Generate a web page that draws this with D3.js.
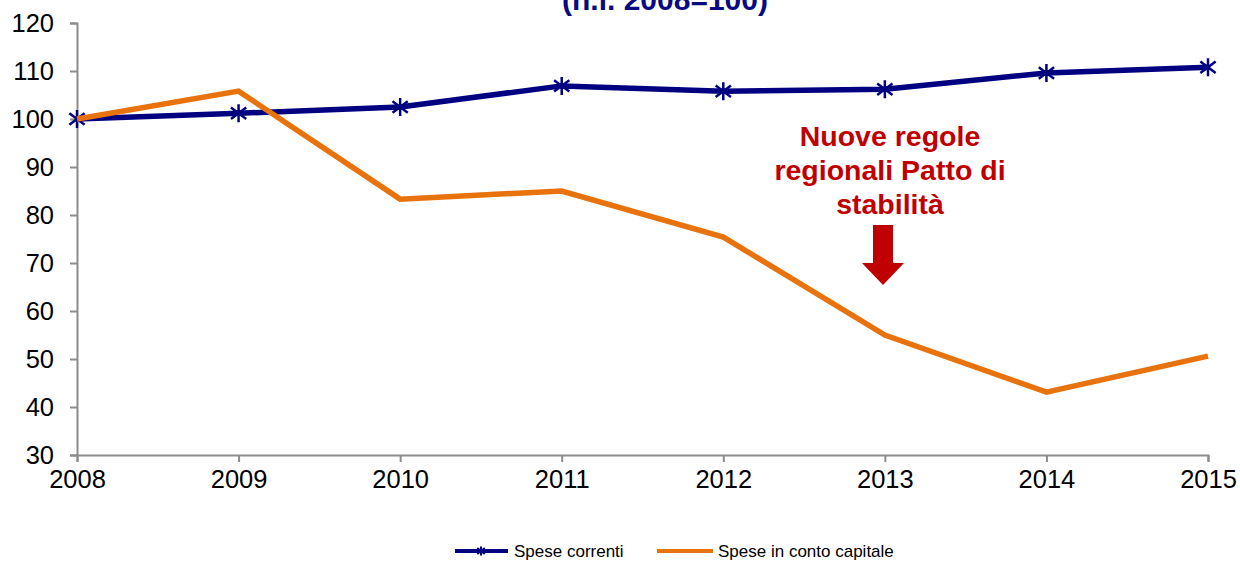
<!DOCTYPE html>
<html><head><meta charset="utf-8">
<script src="https://cdn.jsdelivr.net/npm/d3@7"></script>
<style>body{margin:0;background:#fff}svg{display:block}text{font-family:"Liberation Sans",Arial,sans-serif}</style>
</head><body><svg id="c" width="1240" height="562"></svg>
<script>
const years = [2008, 2009, 2010, 2011, 2012, 2013, 2014, 2015];
const speseCorrenti = [100, 101.2, 102.5, 106.9, 105.8, 106.2, 109.6, 110.8];
const speseCapitale = [100, 105.8, 83.3, 85.0, 75.4, 55.0, 43.1, 50.6];
const yTicks = [30, 40, 50, 60, 70, 80, 90, 100, 110, 120];
const seriesNames = ["Spese correnti", "Spese in conto capitale"];
const titleText = "(n.i. 2008=100)";
const noteLines = ["Nuove regole", "regionali Patto di", "stabilità"];

const svg = d3.select("#c");
const x = d3.scaleLinear().domain([2008, 2015]).range([77, 1208]);
const y = d3.scaleLinear().domain([30, 120]).range([455, 23]);
const axisCol = "#8c8c8c";

// title (partially cut at top, as in the source)
svg.append("text").attr("x", 665).attr("y", 10).attr("text-anchor", "middle")
  .attr("font-size", 30).attr("font-weight", "bold").attr("fill", "#0a0a80").text(titleText);

// y axis
const ya = svg.append("g").attr("transform", "translate(77,0)")
  .call(d3.axisLeft(y).tickValues(yTicks).tickSize(7).tickPadding(16).tickFormat(d3.format("d")));
ya.select(".domain").attr("stroke", axisCol).attr("stroke-width", 2);
ya.selectAll(".tick line").attr("stroke", axisCol).attr("stroke-width", 2);
ya.selectAll(".tick text").attr("font-size", 25.5).attr("fill", "#000").attr("font-family", "Liberation Sans, Arial, sans-serif");

// x axis
const xa = svg.append("g").attr("transform", "translate(0,455)")
  .call(d3.axisBottom(x).tickValues(years).tickSize(7).tickPadding(8).tickFormat(d3.format("d")));
xa.select(".domain").attr("stroke", axisCol).attr("stroke-width", 2);
xa.selectAll(".tick line").attr("stroke", axisCol).attr("stroke-width", 2);
xa.selectAll(".tick text").attr("font-size", 25.5).attr("fill", "#000").attr("font-family", "Liberation Sans, Arial, sans-serif");

const line = d3.line().x((d, i) => x(years[i])).y(d => y(d));
const blue = "#000080", orange = "#E8720C";

svg.append("path").datum(speseCorrenti).attr("d", line).attr("fill", "none")
  .attr("stroke", blue).attr("stroke-width", 5.5).attr("stroke-linejoin", "round");

function star(g, cx, cy, r, w) {
  const a = r * 0.85;
  g.append("path").attr("d", `M${cx},${cy - r}L${cx},${cy + r}M${cx - a},${cy - a * 0.75}L${cx + a},${cy + a * 0.75}M${cx - a},${cy + a * 0.75}L${cx + a},${cy - a * 0.75}`)
    .attr("stroke", blue).attr("stroke-width", w).attr("fill", "none");
}
const mk = svg.append("g");
speseCorrenti.forEach((v, i) => star(mk, x(years[i]), y(v), 9, 2.5));

svg.append("path").datum(speseCapitale).attr("d", line).attr("fill", "none")
  .attr("stroke", orange).attr("stroke-width", 5.5).attr("stroke-linejoin", "miter");

// annotation
const red = "#C00000";
const nt = svg.append("text").attr("text-anchor", "middle").attr("font-size", 28.5)
  .attr("font-weight", "bold").attr("fill", red);
noteLines.forEach((t, i) => nt.append("tspan").attr("x", 890).attr("y", 146 + i * 34).text(t));
svg.append("path").attr("d", "M873,225L893,225L893,263L904,263L883,285L862,263L873,263Z").attr("fill", red);

// legend
const lg = svg.append("g");
lg.append("line").attr("x1", 455).attr("x2", 508).attr("y1", 551).attr("y2", 551).attr("stroke", blue).attr("stroke-width", 4);
star(lg, 481, 551, 4.5, 2);
lg.append("text").attr("x", 514).attr("y", 557).attr("font-size", 17).attr("fill", "#000").text(seriesNames[0]);
lg.append("line").attr("x1", 657).attr("x2", 713).attr("y1", 551).attr("y2", 551).attr("stroke", orange).attr("stroke-width", 4);
lg.append("text").attr("x", 718).attr("y", 557).attr("font-size", 17).attr("fill", "#000").text(seriesNames[1]);
</script></body></html>
